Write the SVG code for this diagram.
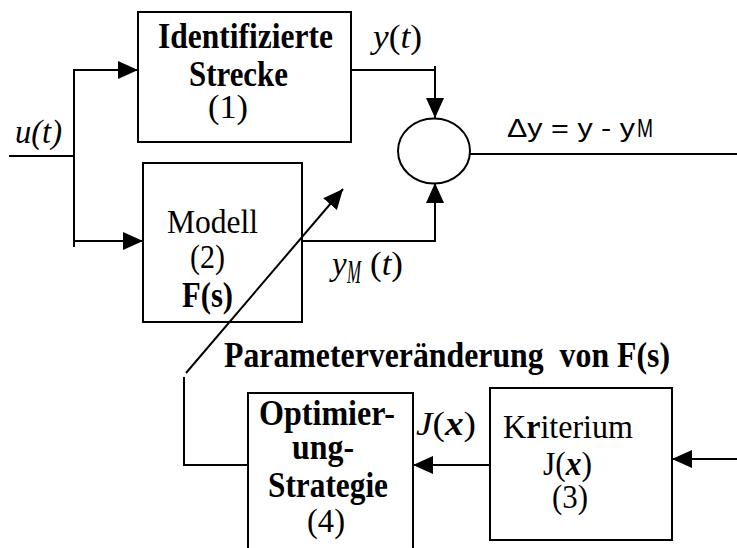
<svg xmlns="http://www.w3.org/2000/svg" width="737" height="548" viewBox="0 0 737 548">
<style>
.ln{fill:none;stroke:#000;stroke-width:2}
.bx{fill:#fff;stroke:#000;stroke-width:2}
text{font-family:"Liberation Serif","Times New Roman",serif;font-size:33px;fill:#000}
.b{font-weight:bold;font-size:35px}
.i{font-style:italic}
.s{font-family:"Liberation Sans",Arial,sans-serif;font-size:25px}
</style>
<defs>
<marker id="ah" viewBox="0 0 20 18" refX="20" refY="9" markerWidth="20" markerHeight="18" markerUnits="userSpaceOnUse" orient="auto">
<path d="M0,0 L20,9 L0,18 z" fill="#000"/>
</marker>
</defs>
<rect width="737" height="548" fill="#fff"/>
<g id="connectors">
<path class="ln" d="M9,156 H74"/>
<path class="ln" d="M74,69 V247"/>
<path class="ln" d="M74,70 H138" marker-end="url(#ah)"/>
<path class="ln" d="M74,241 H143" marker-end="url(#ah)"/>
<path class="ln" d="M351,70 H435"/>
<path class="ln" d="M435,66 V118" marker-end="url(#ah)"/>
<path class="ln" d="M302,241 H435"/>
<path class="ln" d="M435,242 V183" marker-end="url(#ah)"/>
<path class="ln" d="M470,154 H737"/>
<path class="ln" d="M184,377 V465 H248"/>
<path class="ln" d="M490,465 H413" marker-end="url(#ah)"/>
<path class="ln" d="M737,459 H672" marker-end="url(#ah)"/>
</g>
<g id="n1">
<rect class="bx" x="138" y="12" width="213" height="130"/>
<text class="b" x="158" y="48" textLength="175" lengthAdjust="spacingAndGlyphs">Identifizierte</text>
<text class="b" x="189" y="86" textLength="99" lengthAdjust="spacingAndGlyphs">Strecke</text>
<text x="208" y="118" textLength="40" lengthAdjust="spacingAndGlyphs">(1)</text>
</g>
<g id="n2">
<rect class="bx" x="143" y="163" width="159" height="159"/>
<text x="167" y="233" textLength="91" lengthAdjust="spacingAndGlyphs">Modell</text>
<text x="190" y="268" textLength="35" lengthAdjust="spacingAndGlyphs">(2)</text>
<text class="b" x="182" y="307" textLength="51" lengthAdjust="spacingAndGlyphs">F(s)</text>
</g>
<g id="sum">
<ellipse cx="434" cy="151" rx="36" ry="32.5" class="bx"/>
</g>
<g id="n3">
<rect class="bx" x="490" y="388" width="182" height="152"/>
<text x="503" y="438" textLength="130" lengthAdjust="spacingAndGlyphs">K<tspan font-weight="bold">r</tspan>iterium</text>
<text x="543" y="475" textLength="49" lengthAdjust="spacingAndGlyphs">J(<tspan font-weight="bold" class="i">x</tspan>)</text>
<text x="552" y="508" textLength="36" lengthAdjust="spacingAndGlyphs">(3)</text>
</g>
<g id="n4">
<path class="bx" d="M248,552 V393 H413 V552"/>
<text class="b" x="259" y="425" textLength="136" lengthAdjust="spacingAndGlyphs">Optimier-</text>
<text class="b" x="292" y="459" textLength="62" lengthAdjust="spacingAndGlyphs">ung-</text>
<text class="b" x="268" y="497" textLength="120" lengthAdjust="spacingAndGlyphs">Strategie</text>
<text x="307" y="532" textLength="38" lengthAdjust="spacingAndGlyphs">(4)</text>
</g>
<g id="diag">
<path class="ln" d="M186,373 L343,189" marker-end="url(#ah)"/>
</g>
<g id="labels">
<text class="i" x="15" y="143" font-size="31" textLength="47" lengthAdjust="spacingAndGlyphs">u(t)</text>
<text x="373" y="48" font-size="28" textLength="49" lengthAdjust="spacingAndGlyphs"><tspan class="i">y</tspan>(<tspan class="i">t</tspan>)</text>
<text class="i" x="332" y="275" font-size="29">y</text>
<text class="i" x="347" y="283" font-size="15" textLength="14" lengthAdjust="spacingAndGlyphs">M</text>
<text x="370" y="275" font-size="29" textLength="33" lengthAdjust="spacingAndGlyphs">(<tspan class="i">t</tspan>)</text>
<text class="s" x="507" y="137" textLength="128" lengthAdjust="spacingAndGlyphs">Δy = y - y</text>
<text class="s" x="637" y="137" font-size="16" textLength="16" lengthAdjust="spacingAndGlyphs">M</text>
<text class="b" x="224" y="367" textLength="446" lengthAdjust="spacingAndGlyphs" style="white-space:pre">Parameterveränderung  von F(s)</text>
<text x="416" y="435" textLength="60" lengthAdjust="spacingAndGlyphs"><tspan class="i">J</tspan>(<tspan font-weight="bold" class="i">x</tspan>)</text>
</g>
</svg>
